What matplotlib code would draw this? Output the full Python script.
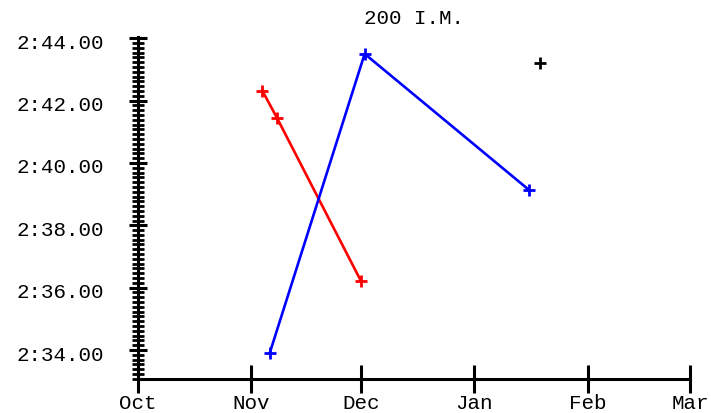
import datetime as dt
import matplotlib
matplotlib.use("Agg")
import matplotlib.pyplot as plt
import matplotlib.transforms as mtransforms
from matplotlib.ticker import FuncFormatter, MultipleLocator

title = "200 I.M."

red_dates = ["2010-11-04", "2010-11-08", "2010-12-01"]
red_times = [162.32, 161.45, 156.21]

blue_dates = ["2010-11-06", "2010-12-02", "2011-01-16"]
blue_times = [153.89, 163.50, 159.13]

black_dates = ["2011-01-19"]
black_times = [163.22]

month_ticks = ["2010-10-01", "2010-11-01", "2010-12-01", "2011-01-01", "2011-02-01", "2011-03-01"]
month_labels = ["Oct", "Nov", "Dec", "Jan", "Feb", "Mar"]

def to_dt(lst):
    return [dt.datetime.strptime(s, "%Y-%m-%d") for s in lst]

plt.rcParams['font.family'] = ['Liberation Mono', 'DejaVu Sans Mono']

fig = plt.figure(figsize=(7.11, 4.13), dpi=100)
ax = fig.add_axes([138/711, 34/413, (690-138)/711, (379-37)/413])

ms = 9
mew = 2.0
lw = 1.9
ax.plot(to_dt(red_dates), red_times, color='#ff0000', lw=lw, marker='+', ms=ms, mew=mew, zorder=3)
ax.plot(to_dt(blue_dates), blue_times, color='#0000ff', lw=lw, marker='+', ms=ms, mew=mew, zorder=3)
ax.plot(to_dt(black_dates), black_times, color='black', lw=0, marker='+', ms=ms, mew=mew, zorder=3)

mt = to_dt(month_ticks)
ax.set_xlim(mt[0], mt[-1])
ax.set_ylim(153.07, 164.04)

ax.set_xticks(mt)
ax.set_xticklabels(month_labels)

ax.yaxis.set_major_locator(MultipleLocator(2))
ax.yaxis.set_minor_locator(MultipleLocator(2/13))

def fmt(v, pos):
    m = int(v // 60)
    s = v - 60 * m
    return f"{m}:{s:05.2f}"
ax.yaxis.set_major_formatter(FuncFormatter(fmt))

for side in ['top', 'right']:
    ax.spines[side].set_visible(False)
for side in ['left', 'bottom']:
    ax.spines[side].set_linewidth(2.2)

ax.tick_params(axis='y', which='major', direction='inout', length=13, width=2.2, labelsize=15, pad=18)
ax.tick_params(axis='y', which='minor', direction='inout', length=8.6, width=2.0)
ax.tick_params(axis='x', which='major', direction='inout', length=20, width=2.2, labelsize=15, pad=1)

shift = mtransforms.ScaledTranslation(0, -3/100, fig.dpi_scale_trans)
for lab in ax.get_yticklabels():
    lab.set_transform(lab.get_transform() + shift)

ax.set_title(title, fontsize=15, pad=9)

fig.savefig("out.png", dpi=100)
